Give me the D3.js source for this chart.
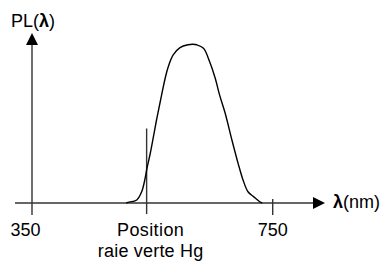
<!DOCTYPE html>
<html>
<head>
<meta charset="utf-8">
<script src="https://cdn.jsdelivr.net/npm/d3@7"></script>
<style>
html,body{margin:0;padding:0;background:#fff;}
svg{display:block;}
text{font-family:"Liberation Sans",Arial,sans-serif;fill:#000;}
</style>
</head>
<body>
<svg id="c" width="383" height="262"></svg>
<script>
// Data
const lambda = [513, 516, 530, 538, 543, 546, 552, 557, 562, 568, 576, 581, 589, 600, 613, 621, 627, 638, 648, 657, 664, 673, 684, 694, 702, 710, 719, 729, 733];
const pl     = [0, 0.004, 0.019, 0.071, 0.145, 0.208, 0.315, 0.418, 0.523, 0.638, 0.786, 0.859, 0.933, 0.979, 0.997, 1.0, 0.997, 0.975, 0.890, 0.786, 0.681, 0.567, 0.397, 0.250, 0.145, 0.071, 0.040, 0.008, 0];
const tickValues = [350, 750];
const tickLabels = ["350", "750"];
const hgLine = 546;
const hgLabel = ["Position", "raie verte Hg"];
const yTitle = ["PL(", "λ", ")"];
const xTitle = ["λ", "(nm)"];

const svg = d3.select("#c");
const x = d3.scaleLinear().domain([350, 750]).range([25.5, 272.7]);
const y = d3.scaleLinear().domain([0, 1]).range([203, 44.3]);

const axisColor = "#333";
const y0 = y(0);
const yAxisX = 32;

// x axis line
svg.append("line").attr("x1", 15).attr("x2", 314).attr("y1", y0).attr("y2", y0)
  .attr("stroke", axisColor).attr("stroke-width", 1.4);
svg.append("path").attr("d", `M313,${y0-6}L325,${y0}L313,${y0+6}Z`).attr("fill", "#000");

// y axis line
svg.append("line").attr("x1", yAxisX).attr("x2", yAxisX).attr("y1", 44).attr("y2", 215)
  .attr("stroke", axisColor).attr("stroke-width", 1.4);
svg.append("path").attr("d", `M${yAxisX-6},45L${yAxisX},33L${yAxisX+6},45Z`).attr("fill", "#000");

// 750 tick
svg.append("line").attr("x1", x(750)).attr("x2", x(750)).attr("y1", 199).attr("y2", 215)
  .attr("stroke", axisColor).attr("stroke-width", 1.4);

// tick labels
svg.selectAll("text.tick").data(tickValues).enter().append("text")
  .attr("class", "tick")
  .attr("x", d => x(d)).attr("y", 236)
  .attr("text-anchor", "middle").attr("font-size", 18)
  .text((d, i) => tickLabels[i]);

// Hg line
svg.append("line").attr("x1", x(hgLine)).attr("x2", x(hgLine)).attr("y1", 128.5).attr("y2", 214)
  .attr("stroke", axisColor).attr("stroke-width", 1.4);
svg.append("text").attr("x", x(hgLine) + 4).attr("y", 236).attr("text-anchor", "middle")
  .attr("font-size", 18).attr("letter-spacing", 0.4).text(hgLabel[0]);
svg.append("text").attr("x", x(hgLine) + 4).attr("y", 257).attr("text-anchor", "middle")
  .attr("font-size", 18).attr("letter-spacing", 0.2).text(hgLabel[1]);

// curve
const line = d3.line().x((d, i) => x(lambda[i])).y(d => y(d)).curve(d3.curveCatmullRom.alpha(0.5));
svg.append("path").datum(pl).attr("d", line)
  .attr("fill", "none").attr("stroke", "#000").attr("stroke-width", 1.4);

// titles
const yt = svg.append("text").attr("x", 11).attr("y", 27).attr("font-size", 18);
yt.append("tspan").text(yTitle[0]);
yt.append("tspan").attr("font-weight", "bold").text(yTitle[1]);
yt.append("tspan").text(yTitle[2]);
svg.append("text").attr("x", 333).attr("y", 208).attr("font-size", 18)
  .attr("font-weight", "bold").text(xTitle[0]);
svg.append("text").attr("x", 380).attr("y", 208).attr("font-size", 18)
  .attr("text-anchor", "end").text(xTitle[1]);
</script>
</body>
</html>
